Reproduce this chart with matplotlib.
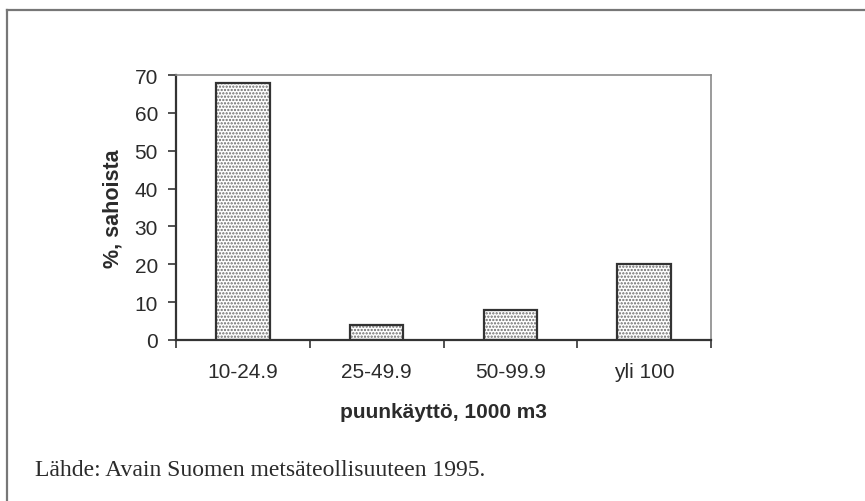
import matplotlib
matplotlib.use('Agg')
import matplotlib.pyplot as plt

# data
categories = ['10-24.9', '25-49.9', '50-99.9', 'yli 100']
shares = [68, 4, 8, 20]
yticks = [0, 10, 20, 30, 40, 50, 60, 70]

TXT = '#2b2b2b'
EDGE = '#333333'
SANS = ['Liberation Sans', 'DejaVu Sans']

plt.rcParams['hatch.linewidth'] = 1.1

fig = plt.figure(figsize=(8.65, 5.02), dpi=100)
fig.patch.set_facecolor('white')

# outer frame (only top and left edges visible in the scan)
fig.add_artist(plt.Line2D([7 / 865, 1.0], [1 - 11 / 502, 1 - 11 / 502],
                          transform=fig.transFigure, color='#777777', lw=1.6))
fig.add_artist(plt.Line2D([7 / 865, 7 / 865], [0.0, 1 - 11 / 502],
                          transform=fig.transFigure, color='#777777', lw=1.6))

ax = fig.add_axes([176 / 865, 1 - 341 / 502, (711 - 176) / 865, (341 - 76) / 502])
x = list(range(len(categories)))

# dotted fill, then a dark outline on top
ax.bar(x, shares, width=0.40, color='white', edgecolor='#6a6a6a',
       hatch='.....', linewidth=0, zorder=2)
ax.bar(x, shares, width=0.40, fill=False, edgecolor=EDGE, linewidth=1.6, zorder=3)

ax.set_xlim(-0.5, len(categories) - 0.5)
ax.set_ylim(0, 70)
ax.set_yticks(yticks)
ax.set_yticklabels([str(v) for v in yticks], fontsize=15, color=TXT, family=SANS)

# boundary ticks without labels, category labels at centres
ax.set_xticks([i - 0.5 for i in range(len(categories) + 1)])
ax.set_xticklabels([])
ax.set_xticks(x, minor=True)
ax.set_xticklabels(categories, minor=True, fontsize=15, color=TXT, family=SANS)
ax.tick_params(axis='x', which='major', direction='out', length=6, width=1.2, color=EDGE)
ax.tick_params(axis='x', which='minor', length=0, pad=16)
ax.tick_params(axis='y', direction='out', length=6, width=1.2, color=EDGE, pad=7)

for side in ('left', 'bottom'):
    ax.spines[side].set_color(EDGE)
    ax.spines[side].set_linewidth(1.6)
for side in ('top', 'right'):
    ax.spines[side].set_color('#8a8a8a')
    ax.spines[side].set_linewidth(1.2)

ax.set_ylabel('%, sahoista', fontsize=15.5, fontweight='bold', color=TXT,
              family=SANS, labelpad=8)
ax.set_xlabel('puunkäyttö, 1000 m3', fontsize=15, fontweight='bold', color=TXT,
              family=SANS, labelpad=15)

fig.text(35 / 865, 1 - 471 / 502, 'Lähde: Avain Suomen metsäteollisuuteen 1995.',
         fontsize=17, color=TXT, va='center', ha='left',
         family=['Liberation Serif', 'DejaVu Serif'])

fig.savefig('out.png', dpi=100, facecolor='white')
